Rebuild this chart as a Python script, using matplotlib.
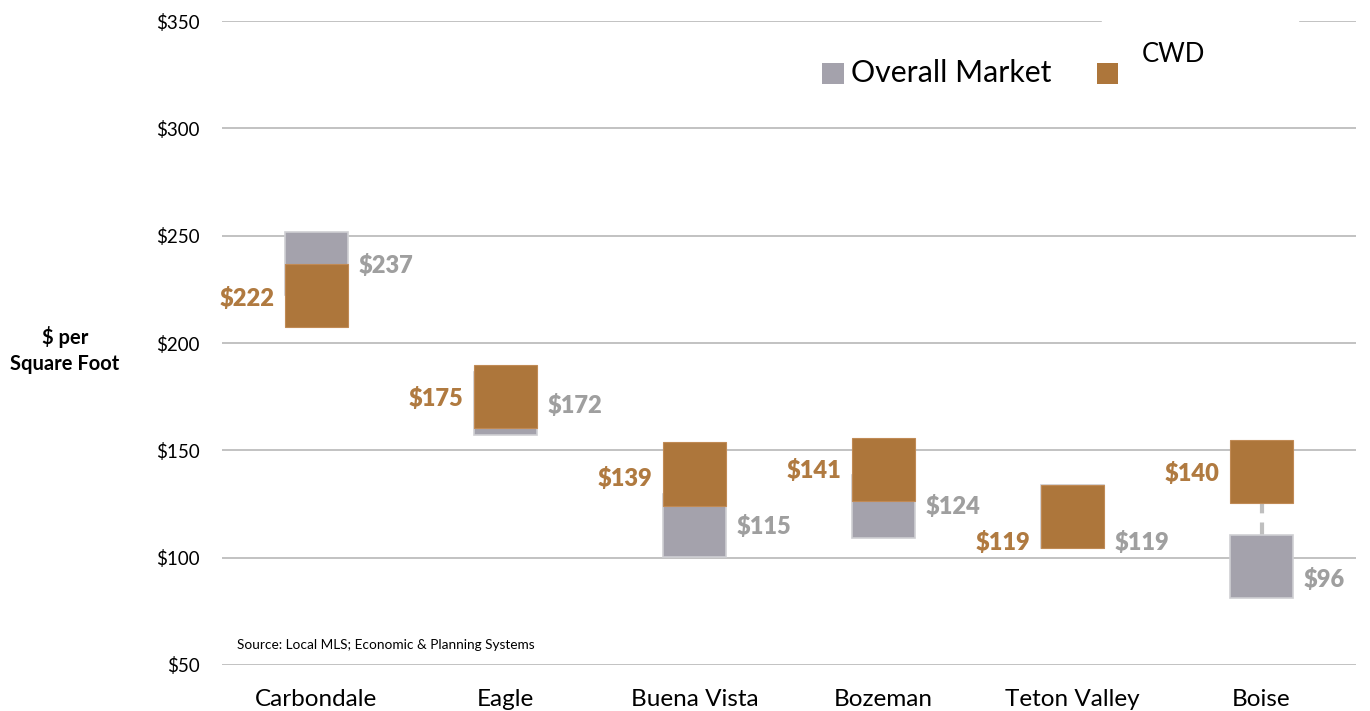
import matplotlib
matplotlib.use("Agg")
import matplotlib.pyplot as plt
from matplotlib.patches import Rectangle

plt.rcParams['font.family'] = ['Lato', 'DejaVu Sans']

categories = ["Carbondale", "Eagle", "Buena Vista", "Bozeman", "Teton Valley", "Boise"]
overall_market = [237, 172, 115, 124, 119, 96]
cwd = [222, 175, 139, 141, 119, 140]
yticks = [50, 100, 150, 200, 250, 300, 350]

# layout (not data): half height of the floating boxes and label nudges
half = 14.7
cwd_label_dy = [-1.5, -1, -2, -0.5, -12, -0.7]
om_label_dy = [-1, -1, -0.6, -0.2, -12, -6]

GRAY = "#A4A2AC"
GRAY_EDGE = "#CFCFD3"
BROWN = "#AD763B"
BROWN_EDGE = "#C08A55"
GRAY_TXT = "#9F9F9F"
BROWN_TXT = "#B07A40"

fig = plt.figure(figsize=(13.7, 7.11), dpi=100)
ax = fig.add_axes([222/1370, 1-665/711, (1356-222)/1370, (665-21)/711])

x = list(range(len(categories)))
w = 0.33

ax.bar(x, [2*half]*len(x), bottom=[v-half for v in overall_market], width=w,
       color=GRAY, edgecolor=GRAY_EDGE, linewidth=1.2, zorder=3)
ax.bar(x, [2*half]*len(x), bottom=[v-half for v in cwd], width=w,
       color=BROWN, edgecolor=BROWN_EDGE, linewidth=0.8, zorder=4)

# dashed connector where the boxes do not touch
for i in x:
    lo_top = min(overall_market[i], cwd[i]) + half
    hi_bot = max(overall_market[i], cwd[i]) - half
    if hi_bot > lo_top:
        ax.plot([i, i], [lo_top, hi_bot], color="#BFBFBF", lw=3,
                dashes=(3, 2.2), zorder=2)

for i in x:
    ax.annotate(f"${cwd[i]}", (i - w/2, cwd[i] + cwd_label_dy[i]),
                xytext=(-8, 0), textcoords="offset points", ha="right", va="center",
                color=BROWN_TXT, fontsize=17, fontweight="heavy", zorder=5)
    ax.annotate(f"${overall_market[i]}", (i + w/2, overall_market[i] + om_label_dy[i]),
                xytext=(8, 0), textcoords="offset points", ha="left", va="center",
                color=GRAY_TXT, fontsize=17, fontweight="heavy", zorder=5)

ax.set_xlim(-0.5, len(categories) - 0.5)
ax.set_ylim(50, 350)
ax.set_yticks(yticks)
ax.set_yticklabels([f"${t}" for t in yticks], fontsize=13.5)
ax.set_xticks(x)
ax.set_xticklabels(categories, fontsize=17.5)
ax.tick_params(axis="both", length=0)
ax.tick_params(axis="y", pad=16)
ax.tick_params(axis="x", pad=17)
for s in ax.spines.values():
    s.set_visible(False)
ax.yaxis.grid(True, color="#BDBDBD", lw=1.3, zorder=0)
ax.set_axisbelow(True)

# white patch behind legend over top gridline
fig.patches.append(Rectangle((1102/1370, 1-26/711), (1298-1102)/1370, 10/711,
                             transform=fig.transFigure, color="white", zorder=10))

# legend
fig.patches.append(Rectangle((822/1370, 1-84/711), 22/1370, 21/711,
                             transform=fig.transFigure, facecolor=GRAY, edgecolor="none"))
fig.text(851/1370, 1-73/711, "Overall Market", fontsize=21.8, va="center", ha="left")
fig.patches.append(Rectangle((1097/1370, 1-84/711), 21/1370, 21/711,
                             transform=fig.transFigure, facecolor=BROWN, edgecolor="none"))
fig.text(1142/1370, 1-55/711, "CWD", fontsize=18.5, va="center", ha="left")

fig.text(65/1370, 1-350/711, "$ per\nSquare Foot", fontsize=14.5, fontweight="bold",
         ha="center", va="center", linespacing=1.4)
fig.text(237/1370, 1-645/711, "Source: Local MLS; Economic & Planning Systems",
         fontsize=9.8, ha="left", va="center")

fig.savefig("out.png", dpi=100)
